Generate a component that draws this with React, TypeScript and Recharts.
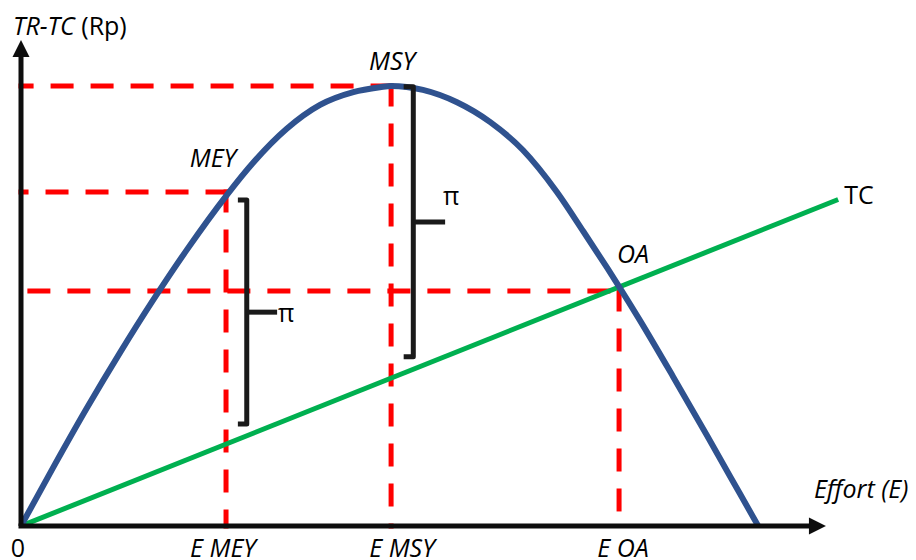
import React from 'react';
import { ComposedChart, Line, XAxis, YAxis, ReferenceLine, ReferenceDot } from 'recharts';

const FONT = "'Open Sans', 'DejaVu Sans', sans-serif";
const FONT_SIZE = 25;
const AXIS = '#0d0d0d';
const INK = '#1a1a1a';
const RED = '#ff0000';

// total revenue curve (effort E -> TR)
const EFFORT = [0, 4.3, 8.9, 13.4, 17.8, 22.4, 27.8, 31.3, 35.9, 40.4, 44.9, 48.5, 50, 54.3, 58.9, 63.4, 67.8, 72.4, 76.0, 79.2, 80.8, 83.6, 88.1, 92.7, 97.1, 99.6];
const TR = [0, 13.1, 26.7, 39.3, 51.0, 62.5, 74.9, 82.1, 89.9, 95.3, 98.2, 99.3, 99.6, 98.7, 95.9, 91.4, 85.1, 75.6, 66.6, 58.4, 54.2, 46.6, 33.8, 20.4, 7.4, 0];

// total cost line
const TC_EFFORT = [0, 110.4];
const TC = [0, 73.9];

// equilibrium points: MEY, MSY, OA
const POINT_EFFORT = [27.7, 50, 80.8];
const POINT_LEVEL = [75.6, 99.6, 53.2];

const X_TICKS = [0, ...POINT_EFFORT];
const TICK_LABELS = ['0', 'E MEY', 'E MSY', 'E OA'];

// profit brackets (π)
const BRACKETS = [
  { x: 30.5, hook: 29.3, top: 73.8, bottom: 23.1, mid: 48.4, tip: 34.6 },
  { x: 53.0, hook: 51.7, top: 99.4, bottom: 38.3, mid: 68.8, tip: 57.3 },
];

const X_MAX = 112;
const Y_MAX = 110;
const X_ARROW = 108.75;

const trData = EFFORT.map((x, i) => ({ x, y: TR[i] }));
const tcData = TC_EFFORT.map((x, i) => ({ x, y: TC[i] }));

const TICK_SHIFT = [-3, -3, 11, 4];

function EffortTick(props: any) {
  const { x, y, payload } = props;
  const i = X_TICKS.indexOf(payload.value);
  return (
    <text
      x={x + (TICK_SHIFT[i] || 0)}
      y={y}
      dy="0.71em"
      textAnchor="middle"
      fontFamily={FONT}
      fontSize={FONT_SIZE}
      fontStyle={i === 0 ? 'normal' : 'italic'}
      fill="#000"
    >
      {TICK_LABELS[i]}
    </text>
  );
}

const label = (text: React.ReactNode, dx: number, dy: number, italic = true, anchor = 'start') => (p: any) => (
  <text
    x={p.cx + dx}
    y={p.cy + dy}
    textAnchor={anchor}
    fontFamily={FONT}
    fontSize={FONT_SIZE}
    fontStyle={italic ? 'italic' : 'normal'}
    fill="#000"
  >
    {text}
  </text>
);

const upArrow = (p: any) => (
  <polygon points={`${p.cx},${p.cy} ${p.cx - 8.5},${p.cy + 17} ${p.cx + 8.5},${p.cy + 17}`} fill={AXIS} />
);
const rightArrow = (p: any) => (
  <polygon points={`${p.cx},${p.cy} ${p.cx - 17},${p.cy - 8.5} ${p.cx - 17},${p.cy + 8.5}`} fill={AXIS} />
);

export default function App() {
  const [eMey, eMsy, eOa] = POINT_EFFORT;
  const [mey, msy, oa] = POINT_LEVEL;
  const dash = { stroke: RED, strokeWidth: 5, strokeDasharray: '18 22', strokeLinecap: 'square' as const, ifOverflow: 'visible' as const };

  return (
    <div style={{ position: 'absolute', left: 0, top: 0, width: 916, height: 560, background: '#fff' }}>
      <ComposedChart width={916} height={560} margin={{ top: 40, right: 66, bottom: 0, left: 21 }}>
        <XAxis
          type="number"
          dataKey="x"
          domain={[0, X_MAX]}
          allowDataOverflow
          ticks={X_TICKS}
          interval={0}
          axisLine={false}
          tickLine={false}
          tickSize={6}
          tickMargin={7}
          height={34}
          tick={EffortTick}
        />
        <YAxis type="number" dataKey="y" domain={[0, Y_MAX]} allowDataOverflow hide />

        {/* dashed guides */}
        <ReferenceLine segment={[{ x: eMsy, y: msy }, { x: 0, y: msy }]} {...dash} />
        <ReferenceLine segment={[{ x: eMsy, y: msy }, { x: eMsy, y: 0 }]} {...dash} />
        <ReferenceLine segment={[{ x: eMey, y: mey }, { x: 0, y: mey }]} {...dash} />
        <ReferenceLine segment={[{ x: eMey, y: mey }, { x: eMey, y: 0 }]} {...dash} />
        <ReferenceLine segment={[{ x: 1.2, y: oa }, { x: eOa, y: oa }]} {...dash} />
        <ReferenceLine segment={[{ x: eOa, y: oa }, { x: eOa, y: 0 }]} {...dash} />

        <Line data={tcData} dataKey="y" type="linear" stroke="#00b050" strokeWidth={5} dot={false} isAnimationActive={false} />
        <Line data={trData} dataKey="y" type="monotone" stroke="#2f528f" strokeWidth={6} dot={false} isAnimationActive={false} />

        {BRACKETS.map((b, i) => (
          <Line
            key={`br-${i}`}
            data={[
              { x: b.hook, y: b.top },
              { x: b.x, y: b.top },
              { x: b.x, y: b.bottom },
              { x: b.hook, y: b.bottom },
            ]}
            dataKey="y"
            type="linear"
            stroke={INK}
            strokeWidth={5}
            strokeLinejoin="round"
            dot={false}
            isAnimationActive={false}
          />
        ))}
        {BRACKETS.map((b, i) => (
          <Line
            key={`tk-${i}`}
            data={[
              { x: b.x, y: b.mid },
              { x: b.tip, y: b.mid },
            ]}
            dataKey="y"
            type="linear"
            stroke={INK}
            strokeWidth={5}
            dot={false}
            isAnimationActive={false}
          />
        ))}

        {/* axes with arrow heads */}
        <ReferenceLine segment={[{ x: 0, y: 0 }, { x: 0, y: 106.2 }]} stroke={AXIS} strokeWidth={5} ifOverflow="visible" />
        <ReferenceLine segment={[{ x: 0, y: 0 }, { x: 106.5, y: 0 }]} stroke={AXIS} strokeWidth={5} strokeLinecap="square" ifOverflow="visible" />
        <ReferenceDot x={0} y={Y_MAX} r={1} ifOverflow="visible" shape={upArrow} />
        <ReferenceDot x={X_ARROW} y={0} r={1} ifOverflow="visible" shape={rightArrow} />

        {/* labels */}
        <ReferenceDot
          x={0}
          y={Y_MAX}
          r={1}
          ifOverflow="visible"
          shape={label(<><tspan fontStyle="italic">TR-TC</tspan><tspan fontStyle="normal"> (Rp)</tspan></>, -8, -5, false)}
        />
        <ReferenceDot x={eMsy} y={msy} r={1} ifOverflow="visible" shape={label('MSY', 1, -16, true, 'middle')} />
        <ReferenceDot x={eMey} y={mey} r={1} ifOverflow="visible" shape={label('MEY', -13, -25, true, 'middle')} />
        <ReferenceDot x={eOa} y={oa} r={1} ifOverflow="visible" shape={label('OA', -2, -28)} />
        <ReferenceDot x={TC_EFFORT[1]} y={TC[1]} r={1} ifOverflow="visible" shape={label('TC', 6, 5, false)} />
        <ReferenceDot x={X_ARROW} y={0} r={1} ifOverflow="visible" shape={label('Effort (E)', -12, -28)} />
        <ReferenceDot x={BRACKETS[0].tip} y={BRACKETS[0].mid} r={1} ifOverflow="visible" shape={label('π', 1, 10, false)} />
        <ReferenceDot x={BRACKETS[1].tip} y={BRACKETS[1].mid} r={1} ifOverflow="visible" shape={label('π', -2, -17, false)} />
      </ComposedChart>
    </div>
  );
}
